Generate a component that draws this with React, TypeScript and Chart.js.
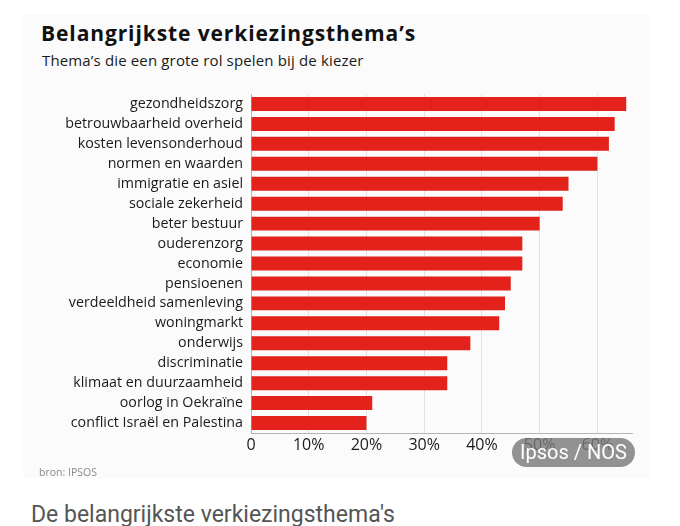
import React, { useEffect, useRef } from "react";
import { Chart, registerables } from "chart.js";

Chart.register(...registerables);

const categories: string[] = [
  "gezondheidszorg",
  "betrouwbaarheid overheid",
  "kosten levensonderhoud",
  "normen en waarden",
  "immigratie en asiel",
  "sociale zekerheid",
  "beter bestuur",
  "ouderenzorg",
  "economie",
  "pensioenen",
  "verdeeldheid samenleving",
  "woningmarkt",
  "onderwijs",
  "discriminatie",
  "klimaat en duurzaamheid",
  "oorlog in Oekraïne",
  "conflict Israël en Palestina",
];

const values: number[] = [65, 63, 62, 60, 55, 54, 50, 47, 47, 45, 44, 43, 38, 34, 34, 21, 20];

const tickValues: number[] = [0, 10, 20, 30, 40, 50, 60];
const tickLabels: string[] = ["0", "10%", "20%", "30%", "40%", "50%", "60%"];

const TITLE = "Belangrijkste verkiezingsthema’s";
const SUBTITLE = "Thema’s die een grote rol spelen bij de kiezer";
const SOURCE = "bron: IPSOS";
const BADGE = "Ipsos / NOS";
const CAPTION = "De belangrijkste verkiezingsthema's";

export default function App() {
  const canvasRef = useRef<HTMLCanvasElement | null>(null);

  useEffect(() => {
    if (!canvasRef.current) return;
    const chart = new Chart(canvasRef.current, {
      type: "bar",
      data: {
        labels: categories,
        datasets: [
          {
            data: values,
            backgroundColor: "#e2221b",
            borderWidth: 0,
            barPercentage: 0.7,
            categoryPercentage: 1,
          },
        ],
      },
      options: {
        indexAxis: "y",
        animation: false,
        responsive: false,
        maintainAspectRatio: false,
        layout: { padding: { top: 94, right: 48, left: 0, bottom: 0 } },
        plugins: {
          legend: { display: false },
          tooltip: { enabled: false },
          title: { display: false },
        },
        scales: {
          x: {
            type: "linear",
            position: "bottom",
            min: 0,
            max: 66,
            afterFit: (scale: any) => {
              scale.height = 37;
            },
            afterBuildTicks: (scale: any) => {
              scale.ticks = tickValues.map((v) => ({ value: v }));
            },
            grid: { color: "#e2e2e2", drawTicks: false, lineWidth: 1 },
            border: { display: true, color: "#b5b5b5", width: 1 },
            ticks: {
              padding: 3,
              color: "#1a1a1a",
              font: { family: "'Open Sans', sans-serif", size: 16 },
              callback: (v: any) => {
                const i = tickValues.indexOf(Number(v));
                return i >= 0 ? tickLabels[i] : "";
              },
            },
          },
          y: {
            type: "category",
            afterFit: (scale: any) => {
              scale.width = 251;
            },
            grid: { display: false, drawTicks: false },
            border: { display: true, color: "#b5b5b5", width: 1 },
            ticks: {
              padding: 8,
              color: "#1a1a1a",
              autoSkip: false,
              font: { family: "'Open Sans', sans-serif", size: 14.25 },
            },
          },
        },
      },
    });
    return () => chart.destroy();
  }, []);

  return (
    <div
      style={{
        position: "absolute",
        left: 0,
        top: 0,
        width: 680,
        height: 526,
        background: "#ffffff",
        overflow: "hidden",
      }}
    >
      <div
        style={{
          position: "absolute",
          left: 23,
          top: 14,
          width: 627,
          height: 464,
          background: "#fbfbfb",
        }}
      />
      <div
        style={{
          position: "absolute",
          left: 41,
          top: 23,
          fontFamily: "'Open Sans', sans-serif",
          fontWeight: 700,
          fontSize: 21,
          lineHeight: "21px",
          color: "#111",
          whiteSpace: "nowrap",
          letterSpacing: 0.9,
        }}
      >
        {TITLE}
      </div>
      <div
        style={{
          position: "absolute",
          left: 42,
          top: 53,
          fontFamily: "'Open Sans', sans-serif",
          fontSize: 15,
          lineHeight: "15px",
          color: "#1a1a1a",
          whiteSpace: "nowrap",
          letterSpacing: 0.15,
        }}
      >
        {SUBTITLE}
      </div>
      <canvas
        ref={canvasRef}
        width={680}
        height={470}
        style={{ position: "absolute", left: 0, top: 0, width: 680, height: 470 }}
      />
      <div
        style={{
          position: "absolute",
          left: 39,
          top: 467,
          fontFamily: "'Open Sans', sans-serif",
          fontSize: 10.5,
          lineHeight: "11px",
          color: "#8a8a8a",
          whiteSpace: "nowrap",
        }}
      >
        {SOURCE}
      </div>
      <div
        style={{
          position: "absolute",
          left: 512,
          top: 438,
          width: 123,
          height: 29,
          borderRadius: 15,
          background: "rgba(120,120,120,0.8)",
          color: "#ffffff",
          fontFamily: "Roboto, sans-serif",
          fontSize: 20,
          lineHeight: "29px",
          textAlign: "center",
          whiteSpace: "nowrap",
        }}
      >
        {BADGE}
      </div>
      <div
        style={{
          position: "absolute",
          left: 31,
          top: 503,
          fontFamily: "Roboto, sans-serif",
          fontSize: 23,
          lineHeight: "23px",
          color: "#555555",
          whiteSpace: "nowrap",
        }}
      >
        {CAPTION}
      </div>
    </div>
  );
}
